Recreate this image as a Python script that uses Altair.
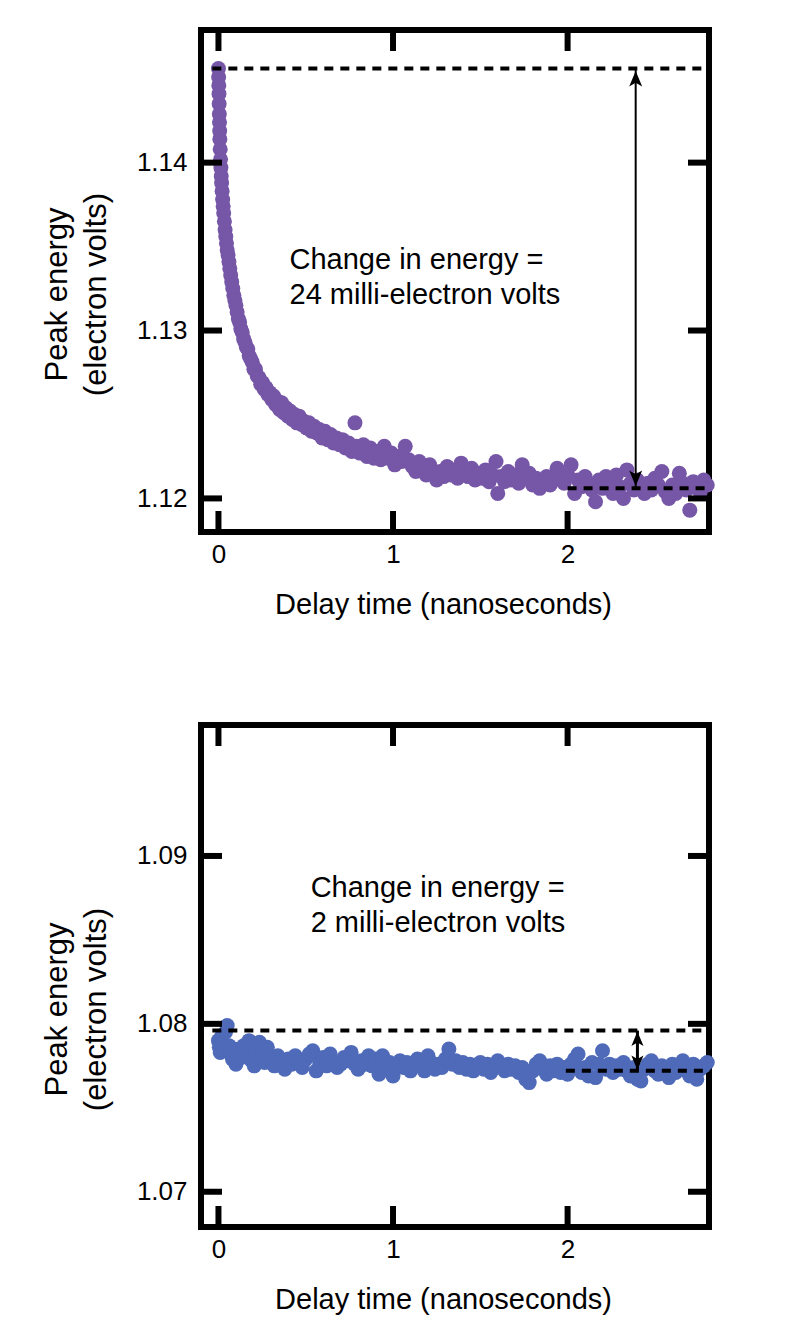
import altair as alt
import pandas as pd

# ---------------- data ----------------
top_t = [0.000, 0.001, 0.002, 0.003, 0.004, 0.005, 0.006, 0.007, 0.008, 0.010,
         0.012, 0.014, 0.016, 0.018, 0.021, 0.024, 0.027, 0.030, 0.034, 0.038,
         0.042, 0.046, 0.050, 0.055, 0.060, 0.065, 0.070, 0.076, 0.082, 0.088,
         0.094, 0.100, 0.107, 0.114, 0.121, 0.128, 0.136, 0.144, 0.152, 0.160,
         0.168, 0.176, 0.185, 0.194, 0.203, 0.212, 0.222, 0.232, 0.242, 0.252,
         0.262, 0.272, 0.283, 0.294, 0.305, 0.316, 0.327, 0.338, 0.350, 0.362,
         0.374, 0.386, 0.398, 0.410, 0.423, 0.436, 0.449, 0.462, 0.476, 0.490,
         0.504, 0.518, 0.533, 0.548, 0.563, 0.578, 0.594, 0.610, 0.626, 0.642,
         0.659, 0.676, 0.693, 0.710, 0.728, 0.746, 0.764, 0.782, 0.790, 0.810,
         0.830, 0.850, 0.870, 0.890, 0.910, 0.930, 0.950, 0.970, 0.990, 1.010,
         1.030, 1.050, 1.070, 1.090, 1.110, 1.130, 1.150, 1.170, 1.190, 1.210,
         1.230, 1.250, 1.270, 1.290, 1.310, 1.330, 1.350, 1.370, 1.390, 1.410,
         1.430, 1.450, 1.470, 1.490, 1.510, 1.530, 1.550, 1.570, 1.590, 1.600,
         1.620, 1.640, 1.660, 1.680, 1.700, 1.720, 1.740, 1.760, 1.780, 1.800,
         1.820, 1.840, 1.860, 1.880, 1.900, 1.920, 1.940, 1.960, 1.980, 2.000,
         2.020, 2.040, 2.060, 2.080, 2.100, 2.120, 2.140, 2.160, 2.180, 2.200,
         2.220, 2.240, 2.260, 2.280, 2.300, 2.320, 2.340, 2.360, 2.380, 2.400,
         2.420, 2.440, 2.460, 2.480, 2.500, 2.520, 2.540, 2.560, 2.580, 2.600,
         2.620, 2.640, 2.660, 2.680, 2.700, 2.720, 2.740, 2.760, 2.780, 2.800]
top_e = [1.1456, 1.1451, 1.1446, 1.1441, 1.1435, 1.1429, 1.1424, 1.1419, 1.1414, 1.1408,
         1.1402, 1.1397, 1.1392, 1.1388, 1.1383, 1.1378, 1.1374, 1.1370, 1.1365, 1.1360,
         1.1356, 1.1352, 1.1348, 1.1345, 1.1341, 1.1337, 1.1333, 1.1329, 1.1325, 1.1321,
         1.1318, 1.1315, 1.1311, 1.1307, 1.1305, 1.1301, 1.1299, 1.1295, 1.1293, 1.1290,
         1.1289, 1.1285, 1.1283, 1.1281, 1.1277, 1.1277, 1.1273, 1.1272, 1.1268, 1.1269,
         1.1265, 1.1266, 1.1262, 1.1263, 1.1259, 1.1261, 1.1256, 1.1258, 1.1253, 1.1257,
         1.1251, 1.1254, 1.1249, 1.1252, 1.1247, 1.1250, 1.1245, 1.1249, 1.1244, 1.1246,
         1.1242, 1.1245, 1.1240, 1.1243, 1.1239, 1.1241, 1.1236, 1.1240, 1.1235, 1.1238,
         1.1233, 1.1236, 1.1232, 1.1235, 1.1230, 1.1233, 1.1228, 1.1245, 1.1231, 1.1227,
         1.1232, 1.1225, 1.1230, 1.1224, 1.1228, 1.1223, 1.1231, 1.1224, 1.1227, 1.1220,
         1.1225, 1.1222, 1.1231, 1.1223, 1.1219, 1.1216, 1.1222, 1.1218, 1.1214, 1.1220,
         1.1215, 1.1211, 1.1216, 1.1213, 1.1219, 1.1214, 1.1217, 1.1212, 1.1221, 1.1216,
         1.1213, 1.1218, 1.1211, 1.1215, 1.1212, 1.1217, 1.1210, 1.1214, 1.1222, 1.1203,
         1.1213, 1.1210, 1.1216, 1.1211, 1.1214, 1.1209, 1.1220, 1.1212, 1.1215, 1.1208,
         1.1212, 1.1206, 1.1210, 1.1213, 1.1208, 1.1211, 1.1218, 1.1212, 1.1209, 1.1214,
         1.1220, 1.1203, 1.1211, 1.1207, 1.1213, 1.1209, 1.1205, 1.1198, 1.1211, 1.1206,
         1.1213, 1.1208, 1.1203, 1.1214, 1.1207, 1.1200, 1.1217, 1.1209, 1.1205, 1.1211,
         1.1206, 1.1203, 1.1209, 1.1205, 1.1212, 1.1208, 1.1216, 1.1204, 1.1200, 1.1208,
         1.1203, 1.1215, 1.1209, 1.1205, 1.1193, 1.1210, 1.1206, 1.1204, 1.1211, 1.1208]

bot_t = [0.000, 0.005, 0.010, 0.015, 0.020, 0.030, 0.040, 0.050, 0.060, 0.070,
         0.080, 0.090, 0.100, 0.115, 0.130, 0.145, 0.160, 0.175, 0.190, 0.205,
         0.220, 0.235, 0.250, 0.265, 0.280, 0.300, 0.320, 0.340, 0.360, 0.380,
         0.400, 0.420, 0.440, 0.460, 0.480, 0.500, 0.520, 0.540, 0.560, 0.580,
         0.600, 0.620, 0.640, 0.660, 0.680, 0.700, 0.720, 0.740, 0.760, 0.780,
         0.800, 0.820, 0.840, 0.860, 0.880, 0.900, 0.920, 0.940, 0.960, 0.980,
         1.000, 1.020, 1.040, 1.060, 1.080, 1.100, 1.120, 1.140, 1.160, 1.180,
         1.200, 1.220, 1.240, 1.260, 1.280, 1.300, 1.320, 1.340, 1.360, 1.380,
         1.400, 1.420, 1.440, 1.460, 1.480, 1.500, 1.520, 1.540, 1.560, 1.580,
         1.600, 1.620, 1.640, 1.660, 1.680, 1.700, 1.720, 1.740, 1.760, 1.780,
         1.800, 1.820, 1.840, 1.860, 1.880, 1.900, 1.920, 1.940, 1.960, 1.980,
         2.000, 2.020, 2.040, 2.060, 2.080, 2.100, 2.120, 2.140, 2.160, 2.180,
         2.200, 2.220, 2.240, 2.260, 2.280, 2.300, 2.320, 2.340, 2.360, 2.380,
         2.400, 2.420, 2.440, 2.460, 2.480, 2.500, 2.520, 2.540, 2.560, 2.580,
         2.600, 2.620, 2.640, 2.660, 2.680, 2.700, 2.720, 2.740, 2.760, 2.780,
         2.800]
bot_e = [1.0790, 1.0786, 1.0783, 1.0792, 1.0788, 1.0784, 1.0795, 1.0799, 1.0787, 1.0782,
         1.0779, 1.0785, 1.0776, 1.0784, 1.0780, 1.0787, 1.0782, 1.0790, 1.0778, 1.0775,
         1.0783, 1.0789, 1.0780, 1.0777, 1.0786, 1.0779, 1.0775, 1.0781, 1.0778, 1.0773,
         1.0779, 1.0776, 1.0781, 1.0777, 1.0774, 1.0779, 1.0782, 1.0784, 1.0772, 1.0777,
         1.0780, 1.0775, 1.0782, 1.0777, 1.0774, 1.0776, 1.0780, 1.0778, 1.0783, 1.0776,
         1.0773, 1.0778, 1.0776, 1.0781, 1.0775, 1.0779, 1.0770, 1.0781, 1.0774, 1.0777,
         1.0769, 1.0775, 1.0778, 1.0774, 1.0777, 1.0772, 1.0776, 1.0779, 1.0775, 1.0772,
         1.0781, 1.0777, 1.0773, 1.0776, 1.0774, 1.0779, 1.0785, 1.0776, 1.0778, 1.0774,
         1.0777, 1.0773, 1.0776, 1.0772, 1.0775, 1.0777, 1.0773, 1.0776, 1.0771, 1.0774,
         1.0778, 1.0775, 1.0772, 1.0776, 1.0773, 1.0775, 1.0771, 1.0774, 1.0767, 1.0765,
         1.0772, 1.0776, 1.0778, 1.0773, 1.0770, 1.0775, 1.0772, 1.0776, 1.0771, 1.0774,
         1.0770, 1.0776, 1.0779, 1.0782, 1.0771, 1.0774, 1.0769, 1.0777, 1.0768, 1.0776,
         1.0784, 1.0773, 1.0776, 1.0771, 1.0775, 1.0773, 1.0777, 1.0772, 1.0769, 1.0774,
         1.0767, 1.0766, 1.0773, 1.0776, 1.0778, 1.0772, 1.0770, 1.0775, 1.0773, 1.0768,
         1.0776, 1.0771, 1.0774, 1.0778, 1.0772, 1.0769, 1.0776, 1.0767, 1.0773, 1.0775,
         1.0777]

x_ticks = [0, 1, 2]
top_y_ticks = [1.12, 1.13, 1.14]
bot_y_ticks = [1.07, 1.08, 1.09]

x_domain = [-0.1, 2.81]
top_y_domain = [1.1180, 1.1479]
bot_y_domain = [1.0679, 1.0978]

# reference levels (dashed lines) and arrows
top_upper = [-0.035, 2.772, 1.1456]   # x start, x end, energy
top_lower = [2.00, 2.795, 1.1206]
bot_upper = [-0.035, 2.772, 1.0796]
bot_lower = [1.99, 2.800, 1.0772]
arrow_x = [2.39, 2.40]

top_label = ["Change in energy =", "24 milli-electron volts"]
bot_label = ["Change in energy =", "2 milli-electron volts"]
top_label_pos = [0.407, 1.1342]
bot_label_pos = [0.528, 1.0881]

PURPLE = "#7656a6"
BLUE = "#4e6ab8"
FONT = "Liberation Sans"
W, H = 508, 502
TICK = 21
HEAD = "M0,-1 L0.75,0.8 L0,0.35 L-0.75,0.8 Z"
HEAD_DOWN = "M0,1 L0.75,-0.8 L0,-0.35 L-0.75,-0.8 Z"


def panel(ts, es, ydom, yticks, color, upper, lower, ax, label, lpos,
          shaft_w, head_size, head_off, ytitle_y):
    xs = alt.Scale(domain=x_domain, nice=False, zero=False)
    ys = alt.Scale(domain=ydom, nice=False, zero=False)
    xa = alt.Axis(values=x_ticks, format="d", title="Delay time (nanoseconds)",
                  titleX=242)
    ya = alt.Axis(values=yticks, format=".2f",
                  title=["Peak energy", "(electron volts)"], titleY=ytitle_y)
    df = pd.DataFrame({"t": ts, "e": es})

    points = alt.Chart(df).mark_circle(size=225, opacity=1, color=color).encode(
        x=alt.X("t:Q", scale=xs, axis=xa),
        y=alt.Y("e:Q", scale=ys, axis=ya),
    )

    xt = pd.DataFrame({"v": x_ticks})
    yt = pd.DataFrame({"v": yticks})
    tick_style = dict(color="black", strokeWidth=6)
    bx = alt.Chart(xt).mark_rule(**tick_style).encode(
        x=alt.X("v:Q", scale=xs, axis=xa),
        y=alt.value(H), y2=alt.value(H - TICK))
    tx = alt.Chart(xt).mark_rule(**tick_style).encode(
        x=alt.X("v:Q", scale=xs, axis=xa),
        y=alt.value(0), y2=alt.value(TICK))
    ly = alt.Chart(yt).mark_rule(**tick_style).encode(
        y=alt.Y("v:Q", scale=ys, axis=ya),
        x=alt.value(0), x2=alt.value(TICK))
    ry = alt.Chart(yt).mark_rule(**tick_style).encode(
        y=alt.Y("v:Q", scale=ys, axis=ya),
        x=alt.value(W - TICK), x2=alt.value(W))

    lines = pd.DataFrame({"x0": [upper[0], lower[0]],
                          "x1": [upper[1], lower[1]],
                          "y": [upper[2], lower[2]]})
    dashed = alt.Chart(lines).mark_rule(
        color="black", strokeWidth=4, strokeDash=[9, 7]).encode(
        x=alt.X("x0:Q", scale=xs, axis=xa), x2="x1:Q",
        y=alt.Y("y:Q", scale=ys, axis=ya))

    arr = pd.DataFrame({"x": [ax], "y0": [upper[2]], "y1": [lower[2]]})
    shaft = alt.Chart(arr).mark_rule(color="black", strokeWidth=shaft_w).encode(
        x=alt.X("x:Q", scale=xs, axis=xa),
        y=alt.Y("y0:Q", scale=ys, axis=ya), y2="y1:Q")
    head_up = alt.Chart(arr).mark_point(
        shape=HEAD, filled=True, size=head_size, opacity=1, color="black",
        yOffset=head_off).encode(
        x=alt.X("x:Q", scale=xs, axis=xa),
        y=alt.Y("y0:Q", scale=ys, axis=ya))
    head_dn = alt.Chart(arr).mark_point(
        shape=HEAD_DOWN, filled=True, size=head_size, opacity=1, color="black",
        yOffset=-head_off).encode(
        x=alt.X("x:Q", scale=xs, axis=xa),
        y=alt.Y("y1:Q", scale=ys, axis=ya))

    txt = pd.DataFrame({"x": [lpos[0]], "y": [lpos[1]], "label": ["\n".join(label)]})
    text = alt.Chart(txt).mark_text(
        align="left", baseline="middle", fontSize=29, font=FONT,
        color="black", lineHeight=35, lineBreak="\n").encode(
        x=alt.X("x:Q", scale=xs, axis=xa),
        y=alt.Y("y:Q", scale=ys, axis=ya),
        text="label:N")

    return alt.layer(points, dashed, shaft, head_up, head_dn, text,
                     bx, tx, ly, ry).properties(width=W, height=H)


top = panel(top_t, top_e, top_y_domain, top_y_ticks, PURPLE,
            top_upper, top_lower, arrow_x[0], top_label, top_label_pos,
            2, 300, 11, 264)
bot = panel(bot_t, bot_e, bot_y_domain, bot_y_ticks, BLUE,
            bot_upper, bot_lower, arrow_x[1], bot_label, bot_label_pos,
            3, 260, 9, 284)

chart = alt.vconcat(top, bot, spacing=97).properties(
    padding={"left": 30, "top": 16, "right": 5, "bottom": 5}
).configure_view(
    stroke="black", strokeWidth=6
).configure_axis(
    grid=False, ticks=False, domain=False,
    labelFont=FONT, titleFont=FONT, labelColor="black", titleColor="black",
    labelFontSize=26, titleFontWeight="normal",
).configure_axisX(
    labelPadding=9, titlePadding=23, titleFontSize=29,
).configure_axisY(
    labelPadding=14, titlePadding=24, titleFontSize=31, titleLineHeight=39,
)

chart.save("out.html", embed_options={"renderer": "svg", "actions": False})
